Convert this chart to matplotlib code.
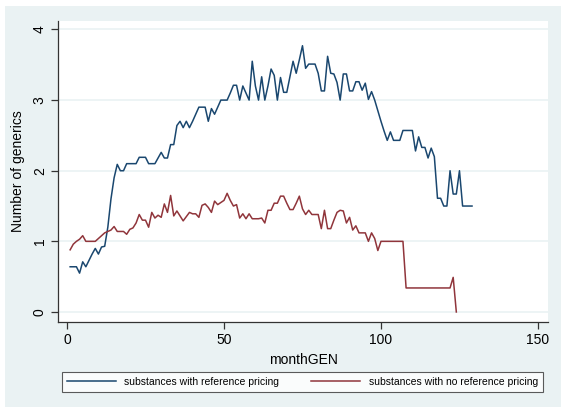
import matplotlib.pyplot as plt
from matplotlib.patches import Rectangle

plt.rcParams['font.family'] = ['Liberation Sans', 'DejaVu Sans']

# months since generic entry
months_rp = list(range(1, 130))
months_norp = list(range(1, 125))

# average number of generics, substances with reference pricing
generics_rp = [0.64, 0.64, 0.64, 0.55, 0.71, 0.64, 0.73, 0.82, 0.90, 0.82,
               0.92, 0.93, 1.20, 1.60, 1.90, 2.09, 2.00, 2.00, 2.10, 2.10,
               2.10, 2.10, 2.19, 2.19, 2.19, 2.10, 2.10, 2.10, 2.18, 2.26,
               2.18, 2.18, 2.37, 2.37, 2.64, 2.70, 2.61, 2.70, 2.61, 2.70,
               2.80, 2.90, 2.90, 2.90, 2.70, 2.88, 2.80, 2.90, 3.00, 3.00,
               3.00, 3.10, 3.21, 3.21, 3.00, 3.20, 3.10, 3.00, 3.55, 3.20,
               3.00, 3.33, 3.00, 3.20, 3.44, 3.35, 3.00, 3.32, 3.11, 3.11,
               3.33, 3.55, 3.38, 3.57, 3.77, 3.45, 3.51, 3.51, 3.51, 3.38,
               3.13, 3.13, 3.62, 3.38, 3.37, 3.25, 3.00, 3.37, 3.37, 3.13,
               3.13, 3.26, 3.26, 3.14, 3.24, 3.01, 3.12, 3.00, 2.85, 2.70,
               2.56, 2.43, 2.55, 2.43, 2.43, 2.43, 2.57, 2.57, 2.57, 2.57,
               2.28, 2.48, 2.33, 2.33, 2.18, 2.32, 2.20, 1.61, 1.61, 1.50,
               1.50, 2.00, 1.67, 1.67, 2.00, 1.50, 1.50, 1.50, 1.50]

# average number of generics, substances without reference pricing
generics_norp = [0.88, 0.96, 1.00, 1.03, 1.08, 1.00, 1.00, 1.00, 1.00, 1.04,
                 1.08, 1.12, 1.14, 1.16, 1.21, 1.14, 1.14, 1.14, 1.10, 1.17,
                 1.19, 1.26, 1.38, 1.30, 1.30, 1.20, 1.41, 1.33, 1.37, 1.34,
                 1.53, 1.41, 1.65, 1.36, 1.43, 1.36, 1.29, 1.35, 1.41, 1.39,
                 1.39, 1.34, 1.51, 1.53, 1.48, 1.41, 1.57, 1.52, 1.55, 1.58,
                 1.68, 1.58, 1.50, 1.52, 1.33, 1.39, 1.32, 1.39, 1.32, 1.32,
                 1.32, 1.33, 1.26, 1.44, 1.44, 1.54, 1.54, 1.64, 1.64, 1.54,
                 1.45, 1.45, 1.54, 1.64, 1.46, 1.38, 1.44, 1.38, 1.38, 1.38,
                 1.18, 1.44, 1.18, 1.18, 1.30, 1.41, 1.44, 1.43, 1.26, 1.34,
                 1.16, 1.22, 1.12, 1.12, 1.12, 1.00, 1.12, 1.04, 0.87, 1.00,
                 1.00, 1.00, 1.00, 1.00, 1.00, 1.00, 1.00, 0.34, 0.34, 0.34,
                 0.34, 0.34, 0.34, 0.34, 0.34, 0.34, 0.34, 0.34, 0.34, 0.34,
                 0.34, 0.34, 0.49, 0.00]

xticks = [0, 50, 100, 150]
yticks = [0, 1, 2, 3, 4]

W, H = 561, 408
bg = '#EAF2F3'
fig = plt.figure(figsize=(W / 100, H / 100), dpi=100, facecolor='white')
fig.patches.append(Rectangle((5 / W, 1 / H), 556 / W, 401 / H, transform=fig.transFigure,
                             facecolor=bg, edgecolor='none', zorder=-10))

ax = fig.add_axes([58 / W, (H - 322) / H, (548 - 58) / W, (322 - 21) / H])
ax.set_facecolor('white')

ax.plot(months_rp, generics_rp, color='#1A476F', lw=1.1,
        label='substances with reference pricing')
ax.plot(months_norp, generics_norp, color='#90353B', lw=1.1,
        label='substances with no reference pricing')

ax.set_xlim(-2.87, 153.2)
ax.set_ylim(-0.142, 4.12)
ax.set_xticks(xticks)
ax.set_yticks(yticks)
ax.set_yticklabels([str(v) for v in yticks], rotation=90, va='center')
ax.grid(axis='y', color=bg, lw=1.2)
ax.set_axisbelow(True)

for s in ['top', 'right']:
    ax.spines[s].set_visible(False)
for s in ['left', 'bottom']:
    ax.spines[s].set_color('#333333')
    ax.spines[s].set_linewidth(0.9)
ax.tick_params(direction='out', length=5, width=0.9, color='#333333',
               labelsize=10, pad=3)

ax.set_xlabel('monthGEN', fontsize=10, labelpad=4)
ax.set_ylabel('Number of generics', fontsize=10, labelpad=6)

leg = fig.legend(loc='lower left', bbox_to_anchor=(62 / W, (H - 392) / H, 481 / W, 25 / H),
                 mode='expand', ncol=2, fontsize=7.5, frameon=True, fancybox=False,
                 edgecolor='#333333', handlelength=4.7, handletextpad=0.8,
                 borderaxespad=0, borderpad=0.5)
leg.get_frame().set_linewidth(0.8)

fig.savefig('out.png', dpi=100, facecolor='white')
